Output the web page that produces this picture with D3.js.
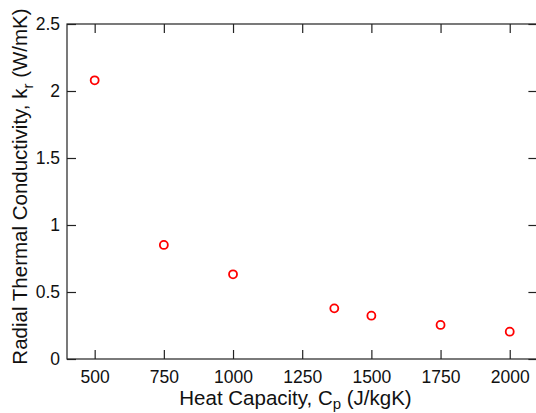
<!DOCTYPE html>
<html>
<head>
<meta charset="utf-8">
<script src="https://cdn.jsdelivr.net/npm/d3@7"></script>
<style>
  body { margin: 0; background: #fff; }
  text { font-family: "Liberation Sans", Arial, sans-serif; }
</style>
</head>
<body>
<div id="chart"></div>
<script>
// heat capacity (J/kgK) vs radial thermal conductivity (W/mK)
var heatCap = [500, 750, 1000, 1366, 1500, 1750, 2000];
var kRadial = [2.08, 0.851, 0.632, 0.378, 0.323, 0.254, 0.204];
var xTicks = [500, 750, 1000, 1250, 1500, 1750, 2000];
var yTicks = [0, 0.5, 1, 1.5, 2, 2.5];

var width = 536, height = 413;
var plotL = 67, plotR = 537.4, plotT = 24, plotB = 359;

var svg = d3.select("#chart").append("svg")
            .attr("width", width)
            .attr("height", height);

var x = d3.scaleLinear().domain([400, 2100]).range([plotL, plotR]);
var y = d3.scaleLinear().domain([0, 2.5]).range([plotB, plotT]);

var axisCol = "#222";
var plain = d3.format("");

// box
svg.append("rect")
   .attr("x", plotL).attr("y", plotT)
   .attr("width", plotR - plotL).attr("height", plotB - plotT)
   .attr("fill", "none")
   .attr("stroke", axisCol)
   .attr("stroke-width", 1.2);

// bottom axis with ticks pointing inward
var xAxis = svg.append("g")
   .attr("transform", "translate(0," + plotB + ")")
   .call(d3.axisBottom(x).tickValues(xTicks).tickSizeInner(-9).tickSizeOuter(0).tickPadding(12).tickFormat(plain));
xAxis.select(".domain").remove();
xAxis.selectAll("line").attr("stroke", axisCol).attr("stroke-width", 1.2);
xAxis.attr("font-size", 17.5).attr("font-family", "Liberation Sans, Arial, sans-serif");
xAxis.selectAll("text").attr("fill", "#111");

// top ticks
var xTop = svg.append("g")
   .attr("transform", "translate(0," + plotT + ")")
   .call(d3.axisTop(x).tickValues(xTicks).tickSizeInner(-9).tickSizeOuter(0).tickFormat(""));
xTop.select(".domain").remove();
xTop.selectAll("line").attr("stroke", axisCol).attr("stroke-width", 1.2);

// left axis
var yAxis = svg.append("g")
   .attr("transform", "translate(" + plotL + ",0)")
   .call(d3.axisLeft(y).tickValues(yTicks).tickSizeInner(-9).tickSizeOuter(0).tickPadding(7).tickFormat(plain));
yAxis.select(".domain").remove();
yAxis.selectAll("line").attr("stroke", axisCol).attr("stroke-width", 1.2);
yAxis.attr("font-size", 17.5).attr("font-family", "Liberation Sans, Arial, sans-serif");
yAxis.selectAll("text").attr("fill", "#111");

// right ticks
var yRight = svg.append("g")
   .attr("transform", "translate(" + plotR + ",0)")
   .call(d3.axisRight(y).tickValues(yTicks).tickSizeInner(-9).tickSizeOuter(0).tickFormat(""));
yRight.select(".domain").remove();
yRight.selectAll("line").attr("stroke", axisCol).attr("stroke-width", 1.2);

// points
svg.selectAll("circle.pt")
   .data(heatCap)
   .enter().append("circle")
   .attr("class", "pt")
   .attr("cx", function (d) { return x(d); })
   .attr("cy", function (d, i) { return y(kRadial[i]); })
   .attr("r", 4)
   .attr("fill", "none")
   .attr("stroke", "#ff0000")
   .attr("stroke-width", 1.8);

// x label
var xLab = svg.append("text")
   .attr("x", 295.5)
   .attr("y", 405)
   .attr("text-anchor", "middle")
   .attr("font-size", "20.5px")
   .attr("fill", "#111");
xLab.append("tspan").text("Heat Capacity, C");
xLab.append("tspan").attr("dy", 4).attr("font-size", "15px").text("p");
xLab.append("tspan").attr("dy", -4).text(" (J/kgK)");

// y label
var yLab = svg.append("text")
   .attr("transform", "translate(27," + 186.5 + ") rotate(-90)")
   .attr("text-anchor", "middle")
   .attr("font-size", "20.5px")
   .attr("fill", "#111");
yLab.append("tspan").text("Radial Thermal Conductivity, k");
yLab.append("tspan").attr("dy", 6).attr("font-size", "15px").text("r");
yLab.append("tspan").attr("dy", -6).text(" (W/mK)");
</script>
</body>
</html>
